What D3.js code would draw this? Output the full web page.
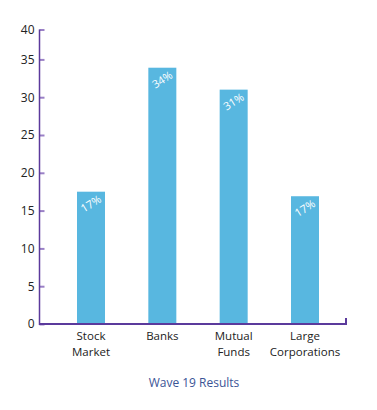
<!DOCTYPE html>
<html>
<head>
<meta charset="utf-8">
<script src="https://cdn.jsdelivr.net/npm/d3@7"></script>
<style>
  body { margin: 0; background: #fff; }
  svg text { font-family: "Open Sans", "Noto Sans", sans-serif; }
</style>
</head>
<body>
<svg width="377" height="410"></svg>
<script>
var categories = [['Stock', 'Market'], ['Banks'], ['Mutual', 'Funds'], ['Large', 'Corporations']];
var values = [17.5, 33.9, 31.0, 16.9];
var barLabels = ['17%', '34%', '31%', '17%'];
var yTicks = [0, 5, 10, 15, 20, 25, 30, 35, 40];
var title = 'Wave 19 Results';

var svg = d3.select('svg');

var axisLeftX = 39.5;
var plotRight = 346;
var baseY = 324;

// the source chart squeezes the top tick, so the scale is piecewise
var yScale = d3.scaleLinear()
    .domain([0, 35, 40])
    .range([baseY, 59.4, 29.5]);

var xScale = d3.scalePoint()
    .domain(d3.range(categories.length))
    .range([91, 305]);

var barWidth = 28;

// bars
svg.selectAll('rect.bar')
    .data(values)
    .enter()
    .append('rect')
    .attr('class', 'bar')
    .attr('x', function(d, i) { return xScale(i) - barWidth / 2; })
    .attr('y', function(d) { return yScale(d); })
    .attr('width', barWidth)
    .attr('height', function(d) { return baseY - yScale(d); })
    .attr('fill', '#58b7e0');

// rotated labels inside bars
svg.selectAll('text.bar-label')
    .data(values)
    .enter()
    .append('text')
    .attr('class', 'bar-label')
    .attr('transform', function(d, i) {
      return 'translate(' + [xScale(i), yScale(d) + 12] + ') rotate(-32)';
    })
    .attr('text-anchor', 'middle')
    .attr('dy', '0.35em')
    .attr('fill', '#fff')
    .style('font-size', '11px')
    .text(function(d, i) { return barLabels[i]; });

// y axis
var yAxis = d3.axisLeft(yScale)
    .tickValues(yTicks)
    .tickSize(-5)
    .tickPadding(5)
    .tickFormat(d3.format('d'));

var yG = svg.append('g')
    .attr('class', 'y-axis')
    .attr('transform', 'translate(' + axisLeftX + ',0)')
    .call(yAxis);

yG.select('.domain').remove();
yG.selectAll('.tick line')
    .attr('stroke', '#9a80c6')
    .attr('stroke-width', 2);
yG.selectAll('.tick text')
    .attr('fill', '#222')
    .style('font-size', '12px');

svg.append('line')
    .attr('x1', axisLeftX).attr('x2', axisLeftX)
    .attr('y1', yScale(40)).attr('y2', baseY + 1)
    .attr('stroke', '#5b3a9c')
    .attr('stroke-width', 1.5);

// x axis baseline with small end tick
svg.append('path')
    .attr('d', 'M' + axisLeftX + ',' + baseY + 'H' + plotRight + 'V' + (baseY - 6))
    .attr('fill', 'none')
    .attr('stroke', '#5b3a9c')
    .attr('stroke-width', 2);

// category labels, one text per line
var xLab = svg.selectAll('g.x-label')
    .data(categories)
    .enter()
    .append('g')
    .attr('class', 'x-label')
    .attr('transform', function(d, i) { return 'translate(' + xScale(i) + ',339.5)'; });

xLab.selectAll('text')
    .data(function(d) { return d; })
    .enter()
    .append('text')
    .attr('text-anchor', 'middle')
    .attr('fill', '#222')
    .style('font-size', '11.5px')
    .attr('y', function(d, i) { return i * 16; })
    .text(function(d) { return d; });

// title
svg.append('text')
    .attr('x', 194)
    .attr('y', 387)
    .attr('text-anchor', 'middle')
    .attr('fill', '#3b5496')
    .style('font-size', '12px')
    .text(title);
</script>
</body>
</html>
